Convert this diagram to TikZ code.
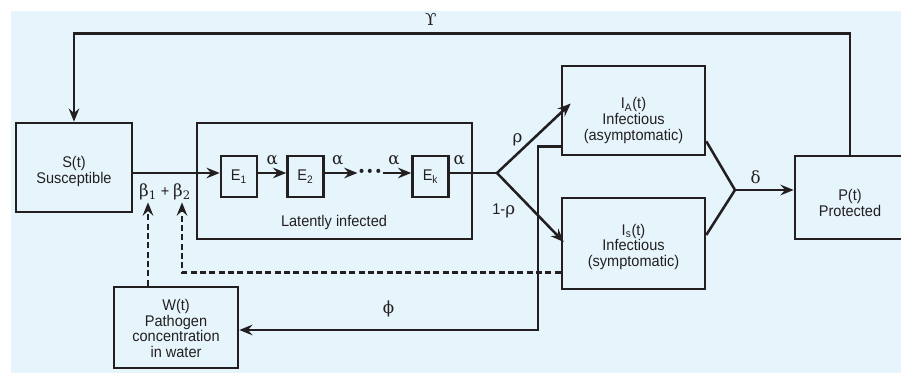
\documentclass[tikz,border=0pt]{standalone}
\usepackage{fontspec}
\setmainfont{Liberation Sans}[FakeStretch=0.94]
\newfontfamily\grk{DejaVu Serif}
\usetikzlibrary{arrows.meta, positioning, calc}
\definecolor{bgblue}{RGB}{230,244,252}
\definecolor{ink}{RGB}{35,31,32}
\tikzset{
  compart/.style={rectangle, draw=ink, line width=1.9pt, inner sep=0pt},
  ctext/.style={align=center, text=ink, inner sep=1pt,
    font=\fontsize{11.6}{11.8}\selectfont},
  ebox/.style={compart, minimum width=27pt, minimum height=30.75pt,
    font=\fontsize{11.6}{11.8}\selectfont, text=ink},
  lbl/.style={text=ink, inner sep=1pt, font=\fontsize{11.6}{11.8}\selectfont},
  rate/.style={text=ink, inner sep=1pt, font=\grk\fontsize{12.5}{13}\selectfont},
  flow/.style={-{Stealth[length=10pt, width=8pt, inset=3.5pt]}, line width=1.9pt, color=ink},
  dflow/.style={flow, dash pattern=on 4.5pt off 2.5pt},
  plain/.style={line width=1.9pt, color=ink}
}
\begin{document}
\begin{tikzpicture}[x=0.75pt, y=-0.75pt]
  \useasboundingbox (0,0) rectangle (901,373);
  \fill[white] (0,0) rectangle (901,373);
  \fill[bgblue] (11,11) rectangle (901,373);
  % compartments
  \node[compart, minimum width=87pt, minimum height=66.75pt,
    label={[ctext, yshift=-3pt]center:S(t)\\Susceptible}] (S) at (74,167.5) {};
  \node[compart, minimum width=206.25pt, minimum height=87pt] (lat) at (334.5,181) {};
  \node[lbl] (latlbl) at (334,223) {Latently infected};
  \node[ebox] (E1) at (239,176.5) {E\textsubscript{1}};
  \node[ebox] (E2) at (305.5,176.5) {E\textsubscript{2}};
  \node[lbl] (dots) at (370,173) {\textbullet\hspace{2.5pt}\textbullet\hspace{2.5pt}\textbullet};
  \node[ebox] (Ek) at (430.5,176.5) {E\textsubscript{k}};
  \node[compart, minimum width=107.25pt, minimum height=66.75pt,
    label={[ctext, yshift=-7.5pt]center:I\textsubscript{A}(t)\\Infectious\\(asymptomatic)}] (IA) at (633.5,110.5) {};
  \node[compart, minimum width=107.25pt, minimum height=68.25pt,
    label={[ctext, yshift=-2.5pt]center:I\textsubscript{s}(t)\\Infectious\\(symptomatic)}] (IS) at (633.5,243.5) {};
  \node[compart, minimum width=82.5pt, minimum height=62.25pt,
    label={[ctext, yshift=-4pt]center:P(t)\\Protected}] (P) at (850,197.5) {};
  \node[compart, minimum width=93pt, minimum height=60.75pt,
    label={[ctext, yshift=-0.75pt]center:W(t)\\Pathogen\\concentration\\in water}] (W) at (176,327.5) {};
  \node[rate, inner sep=1.5pt] (b1) at (148,192) {β\textsubscript{1}};
  \node[lbl] (plus) at (165,192) {+};
  \node[rate, inner sep=1.5pt] (b2) at (182,192) {β\textsubscript{2}};
  \coordinate (m) at (0,173);
  \coordinate (br) at (497,173);
  \coordinate (mg) at (735,190);
  \coordinate (phi) at (538,330);
  % flows
  \draw[flow] (S.east |- m) -- (E1.west |- m);
  \draw[flow] (E1.east |- m) -- node[rate, above=4pt]{α} (E2.west |- m);
  \draw[flow] (E2.east |- m) -- node[rate, above=4pt, pos=0.4]{α} (dots.west);
  \draw[flow] (dots.east) -- node[rate, above=4pt, pos=0.4]{α} (Ek.west |- m);
  \draw[plain] (Ek.east |- m) -- node[rate, above=4pt, pos=0.2]{α} (br);
  \draw[flow] (br) -- node[rate, above=4pt, pos=0.28]{ρ} ([shift={(10,-7)}]IA.west);
  \draw[flow] (br) -- node[lbl, left=12pt, pos=0.55]{1-{\grk\fontsize{12.5}{13}\selectfont ρ}} ([shift={(3,-1.5)}]IS.west);
  \draw[plain] ([shift={(0,-15)}]IA.south east) -- (mg) -- ([shift={(0,-8.5)}]IS.east);
  \draw[flow] (mg) -- node[rate, above=3pt, pos=0.35]{δ} (P.west |- mg);
  \draw[flow] (P.north) -- ++(0,-121) -| node[rate, above=4pt, pos=0.27]{ϒ} (S.north);
  \draw[flow] ([shift={(0,-10)}]IA.south west) -| (phi) -- node[rate, above=8pt]{ϕ} (W.east |- phi);
  % water and shedding
  \draw[dflow] (W.north -| b1) -- (b1.south);
  \draw[dflow] ([shift={(0,-18)}]IS.south west) -| (b2.south);
\end{tikzpicture}
\end{document}
